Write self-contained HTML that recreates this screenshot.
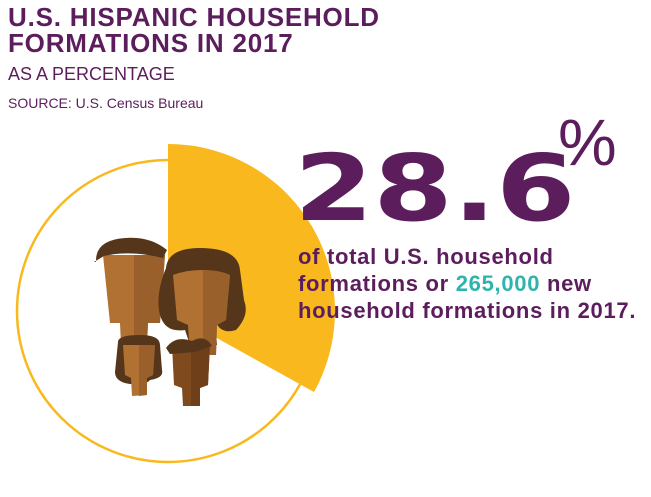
<!DOCTYPE html>
<html><head><style>
body{margin:0;width:651px;height:497px;background:#fff;overflow:hidden;position:relative;font-family:"Liberation Sans",sans-serif;color:#5c1d5c}
.t{position:absolute;left:8px;white-space:nowrap}
</style></head><body>
<svg width="651" height="497" style="position:absolute;left:0;top:0">
<circle cx="168" cy="311" r="151" fill="none" stroke="#f9b91e" stroke-width="2.5"/>
<path d="M168,311 L168,144 A167,167 0 0 1 314,392 Z" fill="#f9b91e"/>
<path d="M103,255 L165,255 L160,323 L148,323 L147,345 L121,345 L120,323 L110,323 Z" fill="#b07132"/>
<path d="M134,255 L165,255 L160,323 L148,323 L147,345 L134,345 Z" fill="#9a602b"/>
<path d="M96,262 Q95,240 125,238 Q150,236 167,250 L163,258 Q130,250 104,256 L94,262 Z" fill="#56361a"/>
<path d="M166,268 Q168,248 200,248 Q238,248 240,270 L244,300 Q250,315 236,330 Q220,335 215,320 L217,345 L190,345 L185,330 Q165,333 160,315 Q155,295 166,268Z" fill="#56361a"/>
<path d="M173,275 Q200,265 230,275 L226,320 L217,325 L216,355 L190,355 L188,325 L177,320 Z" fill="#b07132"/>
<path d="M203,270 Q220,270 230,275 L226,320 L217,325 L216,355 L203,355 Z" fill="#9a602b"/>
<path d="M118,342 Q118,335 140,335 Q160,335 160,345 L162,370 Q164,378 150,380 Q148,384 130,384 Q115,382 115,372 Z" fill="#56361a"/>
<path d="M123,345 L155,345 L153,375 L147,378 L147,395 L132,396 L131,378 L125,375Z" fill="#b07132"/>
<path d="M139,345 L155,345 L153,375 L147,378 L147,395 L139,396Z" fill="#9a602b"/>
<path d="M172,345 L210,344 L208,385 L200,388 L200,406 L183,406 L182,388 L174,385Z" fill="#7e4a1e"/>
<path d="M191,345 L210,344 L208,385 L200,388 L200,406 L191,406Z" fill="#6e3f18"/>
<path d="M166,348 Q175,335 192,341 Q205,334 212,346 L195,352 L170,354Z" fill="#56361a"/>
</svg>
<div class="t" style="top:4px;font-size:26px;font-weight:bold;line-height:26px;letter-spacing:0.8px">U.S. HISPANIC HOUSEHOLD<br>FORMATIONS IN 2017</div>
<div class="t" style="top:64px;font-size:18px">AS A PERCENTAGE</div>
<div class="t" style="top:95px;font-size:14px">SOURCE: U.S. Census Bureau</div>
<div class="t" style="left:294px;top:135px;font-size:92px;font-weight:900;letter-spacing:0px;transform:scaleX(1.24);transform-origin:left;font-family:'DejaVu Sans',sans-serif">28.6</div>
<div class="t" style="left:558px;top:104px;font-size:66px">%</div>
<div class="t" style="left:298px;top:243px;font-size:22px;font-weight:bold;line-height:27px;letter-spacing:0.7px">of total U.S. household<br>formations or <span style="color:#2cb5ac">265,000</span> new<br>household formations in 2017.</div>
</body></html>
